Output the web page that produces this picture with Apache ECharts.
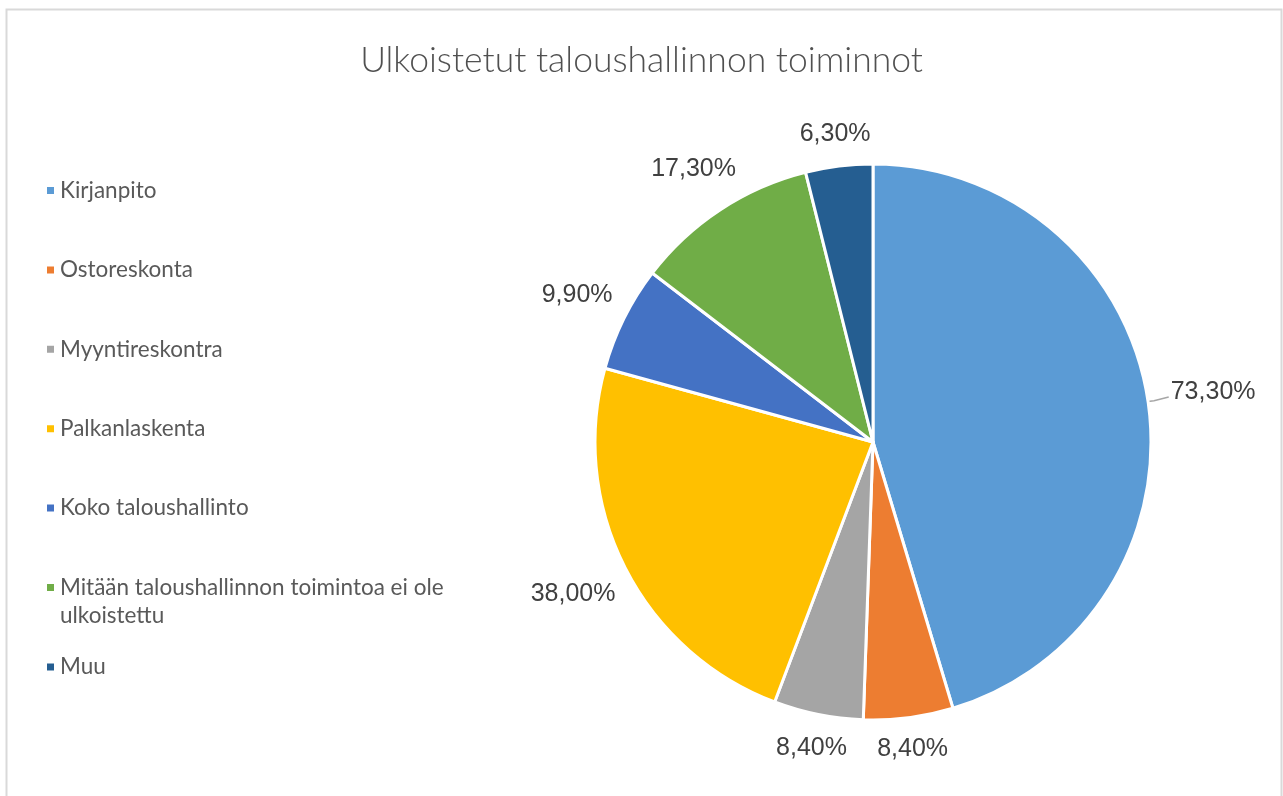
<!DOCTYPE html>
<html>
<head>
<meta charset="utf-8">
<title>Ulkoistetut taloushallinnon toiminnot</title>
<script src="https://cdn.jsdelivr.net/npm/echarts@6/dist/echarts.min.js"></script>
<style>
    html, body { margin: 0; padding: 0; background: #fff; }
    #chart { width: 1283px; height: 796px; }
</style>
</head>
<body>
<div id="chart"></div>
<script>
// toiminnot ja osuudet (%)
var categories = [
    "Kirjanpito",
    "Ostoreskonta",
    "Myyntireskontra",
    "Palkanlaskenta",
    "Koko taloushallinto",
    "Mitään taloushallinnon toimintoa ei ole ulkoistettu",
    "Muu"
];
var values = [73.3, 8.4, 8.4, 38.0, 9.9, 17.3, 6.3];
var colors = ["#5B9BD5", "#ED7D31", "#A5A5A5", "#FFC000", "#4472C4", "#70AD47", "#255E91"];

var legendFont = { fontFamily: "Lato", fontSize: 22.5, color: "#595959", lineHeight: 28 };

// pilkku desimaalierottimena
function fmtPct(v) {
    return v.toFixed(2).replace(".", ",") + "%";
}

// pitkä selite kahdelle riville, tyhjä rivi ylös jotta ikoni osuu ekalle riville
function wrapName(name) {
    if (name.length <= 40) return name;
    var cut = name.lastIndexOf(" ", 40);
    return "\n" + name.slice(0, cut) + "\n" + name.slice(cut + 1);
}

var legendStart = 190.5, legendStep = 79.4;
var legends = categories.map(function (name, i) {
    var lines = wrapName(name).split("\n").length;
    return {
        data: [name],
        orient: "vertical",
        left: 45,
        top: legendStart + legendStep * i - lines * legendFont.lineHeight / 2,
        padding: 0,
        icon: "rect",
        itemWidth: 9,
        itemHeight: 9,
        selectedMode: false,
        formatter: wrapName,
        textStyle: legendFont
    };
});

var chart = echarts.init(document.getElementById("chart"));
chart.setOption({
    color: colors,
    title: {
        text: "Ulkoistetut taloushallinnon toiminnot",
        left: "center",
        top: 38,
        textStyle: { fontFamily: "Lato", fontWeight: 300, fontSize: 35.5, color: "#505050" }
    },
    legend: legends,
    graphic: [{
        type: "rect",
        silent: true,
        shape: { x: 6.5, y: 9.5, width: 1275, height: 800 },
        style: { fill: "none", stroke: "#d9d9d9", lineWidth: 2 }
    }],
    series: [{
        type: "pie",
        center: [873, 442],
        radius: 278,
        startAngle: 90,
        clockwise: true,
        avoidLabelOverlap: false,
        itemStyle: { borderColor: "#fff", borderWidth: 3 },
        label: {
            show: true,
            position: "outside",
            formatter: function (p) { return fmtPct(p.value); },
            fontFamily: "Liberation Sans",
            fontSize: 25,
            color: "#404040"
        },
        labelLine: {
            show: true,
            length: 10,
            length2: 0,
            lineStyle: { color: "#a6a6a6", width: 1.5 }
        },
        // labelit keskitetään sektorin keskikulmalle reunan ulkopuolelle
        labelLayout: function (p) {
            var pts = p.labelLinePoints;
            if (!pts) return {};
            var dx = pts[1][0] - pts[0][0], dy = pts[1][1] - pts[0][1];
            var len = Math.sqrt(dx * dx + dy * dy) || 1;
            var ux = dx / len, uy = dy / len;
            var w = p.labelRect.width / 2, h = p.labelRect.height / 2;
            var withLine = p.dataIndex === 0;
            var gap = withLine ? 22 : 15;
            var d = gap + w * Math.abs(ux) + h * Math.abs(uy);
            var cx = pts[0][0] + ux * d, cy = pts[0][1] + uy * d;
            var linePts = withLine
                ? [pts[0], [pts[0][0] + ux * 6, pts[0][1] + uy * 6], [cx - w - 2, cy + 5]]
                : [pts[0], pts[0], pts[0]];
            return {
                x: cx,
                y: cy,
                align: "center",
                verticalAlign: "middle",
                labelLinePoints: linePts
            };
        },
        data: categories.map(function (name, i) {
            return { name: name, value: values[i] };
        })
    }]
});
</script>
</body>
</html>
